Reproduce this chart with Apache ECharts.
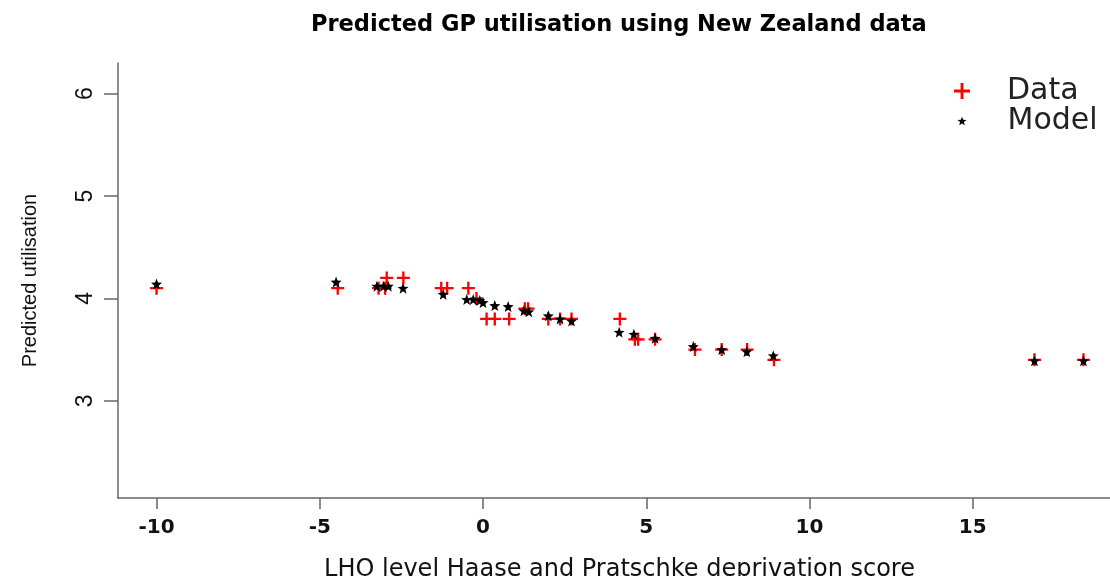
<!DOCTYPE html>
<html style="height: 100%">
<head>
<meta charset="utf-8">
<script src="https://cdn.jsdelivr.net/npm/echarts@6/dist/echarts.min.js"></script>
</head>
<body style="height: 100%; margin: 0; background: #fff">
<div id="container" style="width: 1110px; height: 576px"></div>
<script type="text/javascript">
//------ data ------
var dataX = [-10, -4.45, -3.2, -3.0, -2.95, -2.44, -1.28, -1.1, -0.45, -0.2, 0.11, 0.36, 0.8, 1.28, 1.38, 2.0, 2.36, 2.71, 4.19, 4.65, 4.75, 5.27, 6.49, 7.31, 8.09, 8.91, 16.89, 18.39];
var dataY = [4.1, 4.1, 4.1, 4.1, 4.2, 4.2, 4.1, 4.1, 4.1, 4.0, 3.8, 3.8, 3.8, 3.9, 3.9, 3.8, 3.8, 3.8, 3.8, 3.6, 3.6, 3.6, 3.5, 3.5, 3.5, 3.4, 3.4, 3.4];
var modelX = [-10, -4.5, -3.25, -3.05, -2.9, -2.45, -1.22, -0.5, -0.3, -0.1, 0.0, 0.36, 0.77, 1.25, 1.4, 2.0, 2.36, 2.71, 4.17, 4.62, 5.27, 6.44, 7.31, 8.08, 8.89, 16.89, 18.39];
var modelY = [4.14, 4.16, 4.12, 4.12, 4.12, 4.1, 4.04, 3.99, 3.99, 3.98, 3.96, 3.93, 3.92, 3.88, 3.87, 3.83, 3.8, 3.78, 3.67, 3.65, 3.61, 3.53, 3.5, 3.48, 3.44, 3.39, 3.39];
// axis ranges (R-style 4% padding) and tick ranges
var xRange = [-11.18, 19.54], xTickRange = [-10, 15], xStep = 5;
var yRange = [2.05, 6.3], yTickRange = [3, 6], yStep = 1;
//------------------

var plusPath = 'path://M-0.18,-1H0.18V-0.18H1V0.18H0.18V1H-0.18V0.18H-1V-0.18H-0.18Z';
var starPath = 'path://M0,-1L0.247,-0.34L0.951,-0.309L0.399,0.13L0.588,0.809L0,0.42L-0.588,0.809L-0.399,0.13L-0.951,-0.309L-0.247,-0.34Z';

function pairs(xs, ys) {
	var arr = [];
	for (var i = 0; i < xs.length; i++) {
		arr.push([xs[i], ys[i]]);
	}
	return arr;
}

var W = 1110, H = 576;
var plot = { left: 118, right: -11, top: 63, bottom: 78 };
// pixel scale of the main plot, used to lay the tick-only grids over it
var pxX = (W - plot.right - plot.left) / (xRange[1] - xRange[0]);
var pxY = (H - plot.bottom - plot.top) / (yRange[1] - yRange[0]);
var xTickGrid = {
	left: plot.left + (xTickRange[0] - xRange[0]) * pxX,
	right: plot.right + (xRange[1] - xTickRange[1]) * pxX,
	top: plot.top, bottom: plot.bottom, outerBoundsMode: 'none'
};
var yTickGrid = {
	left: plot.left, right: plot.right,
	top: plot.top + (yRange[1] - yTickRange[1]) * pxY,
	bottom: plot.bottom + (yTickRange[0] - yRange[0]) * pxY,
	outerBoundsMode: 'none'
};

var myChart = echarts.init(document.getElementById('container'));
var axisCol = '#666';
var wideFont = 'DejaVu Sans, Verdana, sans-serif';
var plainFont = 'Liberation Sans, Arial, sans-serif';

var option = {
	animation: false,
	textStyle: { fontFamily: plainFont },
	title: {
		text: 'Predicted GP utilisation using New Zealand data',
		left: 306,
		top: 9,
		textStyle: { fontSize: 22.5, fontWeight: 'bold', color: '#000', fontFamily: wideFont }
	},
	legend: [{
		data: [{ name: 'Data', icon: plusPath }],
		left: 949,
		top: 71,
		itemWidth: 16,
		itemHeight: 16,
		textStyle: { fontSize: 30, color: '#222', padding: [0, 0, 0, 32], fontFamily: wideFont }
	}, {
		data: [{ name: 'Model', icon: starPath }],
		left: 952.5,
		top: 101,
		itemWidth: 9,
		itemHeight: 9,
		textStyle: { fontSize: 30, color: '#222', padding: [0, 0, 0, 36], fontFamily: wideFont }
	}],
	grid: [
		{ left: plot.left, right: plot.right, top: plot.top, bottom: plot.bottom, outerBoundsMode: 'none' },
		xTickGrid,
		yTickGrid
	],
	xAxis: [{
		gridIndex: 0,
		type: 'value',
		min: xRange[0],
		max: xRange[1],
		name: 'LHO level Haase and Pratschke deprivation score',
		nameLocation: 'middle',
		nameGap: 60,
		nameTextStyle: { fontSize: 24, color: '#111', fontFamily: wideFont },
		splitLine: { show: false },
		axisLine: { onZero: false, lineStyle: { color: axisCol, width: 1.5 } },
		axisTick: { show: false },
		axisLabel: { show: false }
	}, {
		gridIndex: 1,
		type: 'value',
		min: xTickRange[0],
		max: xTickRange[1],
		interval: xStep,
		splitLine: { show: false },
		axisLine: { show: false, onZero: false },
		axisTick: { show: true, length: 11, lineStyle: { color: axisCol, width: 1.5 } },
		axisLabel: { margin: 20, fontSize: 20, fontWeight: 'bold', color: '#111', fontFamily: wideFont }
	}, {
		gridIndex: 2,
		type: 'value',
		show: false
	}],
	yAxis: [{
		gridIndex: 0,
		type: 'value',
		min: yRange[0],
		max: yRange[1],
		name: 'Predicted utilisation',
		nameLocation: 'middle',
		nameGap: 78,
		nameRotate: 90,
		nameTextStyle: { fontSize: 20, color: '#111', fontFamily: plainFont },
		splitLine: { show: false },
		axisLine: { show: true, onZero: false, lineStyle: { color: axisCol, width: 1.5 } },
		axisTick: { show: false },
		axisLabel: { show: false }
	}, {
		gridIndex: 1,
		type: 'value',
		show: false
	}, {
		gridIndex: 2,
		type: 'value',
		min: yTickRange[0],
		max: yTickRange[1],
		interval: yStep,
		splitLine: { show: false },
		axisLine: { show: false, onZero: false },
		axisTick: { show: true, length: 14, lineStyle: { color: axisCol, width: 1.5 } },
		axisLabel: { margin: 21, rotate: 90, fontSize: 23, color: '#111', fontFamily: plainFont }
	}],
	series: [{
		name: 'Data',
		type: 'scatter',
		xAxisIndex: 0,
		yAxisIndex: 0,
		symbol: plusPath,
		symbolSize: 13,
		itemStyle: { color: '#ff0000', opacity: 1 },
		data: pairs(dataX, dataY)
	}, {
		name: 'Model',
		type: 'scatter',
		xAxisIndex: 0,
		yAxisIndex: 0,
		symbol: starPath,
		symbolSize: 11,
		itemStyle: { color: '#000', opacity: 1 },
		data: pairs(modelX, modelY)
	}]
};

myChart.setOption(option);
</script>
</body>
</html>
